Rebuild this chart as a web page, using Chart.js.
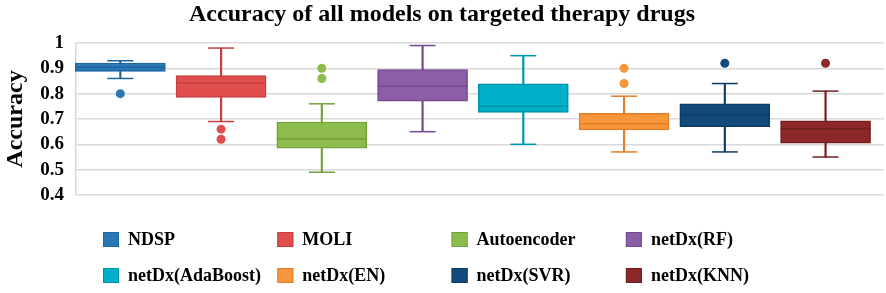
<!DOCTYPE html>
<html>
<head>
<meta charset="utf-8">
<script src="https://cdn.jsdelivr.net/npm/chart.js@4.4.1/dist/chart.umd.min.js"></script>
<style>
  html, body { margin: 0; padding: 0; background: #fff; }
  #wrap { width: 886px; height: 293px; position: relative; }
</style>
</head>
<body>
<div id="wrap"><canvas id="chart-box"></canvas></div>
<script>
// Box plot: accuracy of all models on targeted therapy drugs
const models = ['NDSP', 'MOLI', 'Autoencoder', 'netDx(RF)', 'netDx(AdaBoost)', 'netDx(EN)', 'netDx(SVR)', 'netDx(KNN)'];
const whiskerLow  = [0.860, 0.690, 0.490, 0.650, 0.600, 0.570, 0.570, 0.550];
const q1          = [0.888, 0.785, 0.585, 0.770, 0.726, 0.657, 0.670, 0.605];
const median      = [0.904, 0.842, 0.621, 0.829, 0.750, 0.681, 0.717, 0.662];
const q3          = [0.921, 0.871, 0.688, 0.895, 0.839, 0.722, 0.760, 0.693];
const whiskerHigh = [0.930, 0.980, 0.760, 0.990, 0.950, 0.790, 0.840, 0.810];
const outlierModel = [0, 1, 1, 2, 2, 5, 5, 6, 7];
const outlierValue = [0.80, 0.66, 0.62, 0.90, 0.86, 0.90, 0.84, 0.92, 0.92];
const yTicks = [0.4, 0.5, 0.6, 0.7, 0.8, 0.9, 1];

const fills   = ['#2878b8', '#e04e4e', '#8cbc4c', '#8c5ea8', '#00aec8', '#f8963c', '#124b7b', '#8c2828'];
const strokes = ['#1d66a2', '#c83e3e', '#76a03c', '#74488e', '#0094ac', '#e47e26', '#0c3b63', '#701d1d'];

const SERIF = "'Liberation Serif', 'DejaVu Serif', serif";

const byIndex = (arr) => (ctx) => arr[ctx.raw ? ctx.raw.x : ctx.dataIndex];

// draws the 2x4 legend grid under the plot
const gridLegend = {
  id: 'gridLegend',
  afterDraw(chart) {
    const { ctx, chartArea } = chart;
    const colW = 174.3;
    ctx.save();
    ctx.font = `bold 18px ${SERIF}`;
    ctx.textBaseline = 'middle';
    ctx.textAlign = 'left';
    models.forEach((name, i) => {
      const col = i % 4, row = Math.floor(i / 4);
      const x = chartArea.left + 27 + col * colW;
      const y = chartArea.bottom + 44.5 + row * 36;
      ctx.fillStyle = fills[i];
      ctx.fillRect(x, y - 7.5, 16, 15);
      ctx.strokeStyle = strokes[i];
      ctx.lineWidth = 1;
      ctx.strokeRect(x + 0.5, y - 7, 15, 14);
      ctx.fillStyle = '#000';
      ctx.fillText(name, x + 25, y + 1);
    });
    ctx.restore();
  }
};

const idx = models.map((_, i) => i);

new Chart(document.getElementById('chart-box'), {
  type: 'bar',
  data: {
    datasets: [
      {
        type: 'bar',
        label: 'whisker',
        data: idx.map(i => ({ x: i, y: [whiskerLow[i], whiskerHigh[i]] })),
        backgroundColor: strokes,
        barThickness: 1.5,
        grouped: false,
        clip: false,
        order: 4
      },
      {
        type: 'bar',
        label: 'box',
        data: idx.map(i => ({ x: i, y: [q1[i], q3[i]] })),
        backgroundColor: fills,
        borderColor: strokes,
        borderWidth: 1.5,
        borderSkipped: false,
        barThickness: 90,
        grouped: false,
        clip: false,
        order: 3
      },
      {
        type: 'scatter',
        label: 'median',
        data: idx.map(i => ({ x: i, y: median[i] })),
        pointStyle: 'line',
        pointRadius: 45,
        pointBorderWidth: 1.5,
        pointBorderColor: byIndex(strokes),
        clip: false,
        order: 2
      },
      {
        type: 'scatter',
        label: 'caps',
        data: idx.map(i => ({ x: i, y: whiskerLow[i] })).concat(idx.map(i => ({ x: i, y: whiskerHigh[i] }))),
        pointStyle: 'line',
        pointRadius: 13,
        pointBorderWidth: 1.5,
        pointBorderColor: byIndex(strokes),
        clip: false,
        order: 2
      },
      {
        type: 'scatter',
        label: 'outliers',
        data: outlierModel.map((m, k) => ({ x: m, y: outlierValue[k] })),
        pointStyle: 'circle',
        pointRadius: 4.5,
        pointBorderWidth: 0,
        pointBackgroundColor: byIndex(fills),
        clip: false,
        order: 1
      }
    ]
  },
  options: {
    responsive: true,
    maintainAspectRatio: false,
    animation: false,
    events: [],
    layout: { autoPadding: false, padding: { left: 0, right: 2, top: 0, bottom: 98 } },
    scales: {
      x: {
        type: 'linear',
        display: false,
        offset: false,
        min: -0.44,
        max: 7.58
      },
      y: {
        min: 0.4,
        max: 1,
        afterBuildTicks: (scale) => { scale.ticks = yTicks.map(v => ({ value: v })); },
        afterFit: (scale) => { scale.width = 76; },
        grid: { color: '#d9d9d9', lineWidth: 1.5, drawTicks: false },
        border: { display: true, color: '#d9d9d9', width: 1.5 },
        ticks: {
          autoSkip: false,
          padding: 12,
          color: '#000',
          font: { family: SERIF, size: 19, weight: 'bold' },
          callback: (v) => String(Number(v.toFixed(1)))
        },
        title: {
          display: true,
          text: 'Accuracy',
          color: '#000',
          padding: { top: 1, bottom: 0 },
          font: { family: SERIF, size: 24, weight: 'bold' }
        }
      }
    },
    plugins: {
      legend: { display: false },
      tooltip: { enabled: false },
      title: {
        display: true,
        text: 'Accuracy of all models on targeted therapy drugs',
        color: '#000',
        padding: { top: 0, bottom: 14.2 },
        font: { family: SERIF, size: 24, weight: 'bold' }
      }
    }
  },
  plugins: [gridLegend]
});
</script>
</body>
</html>
